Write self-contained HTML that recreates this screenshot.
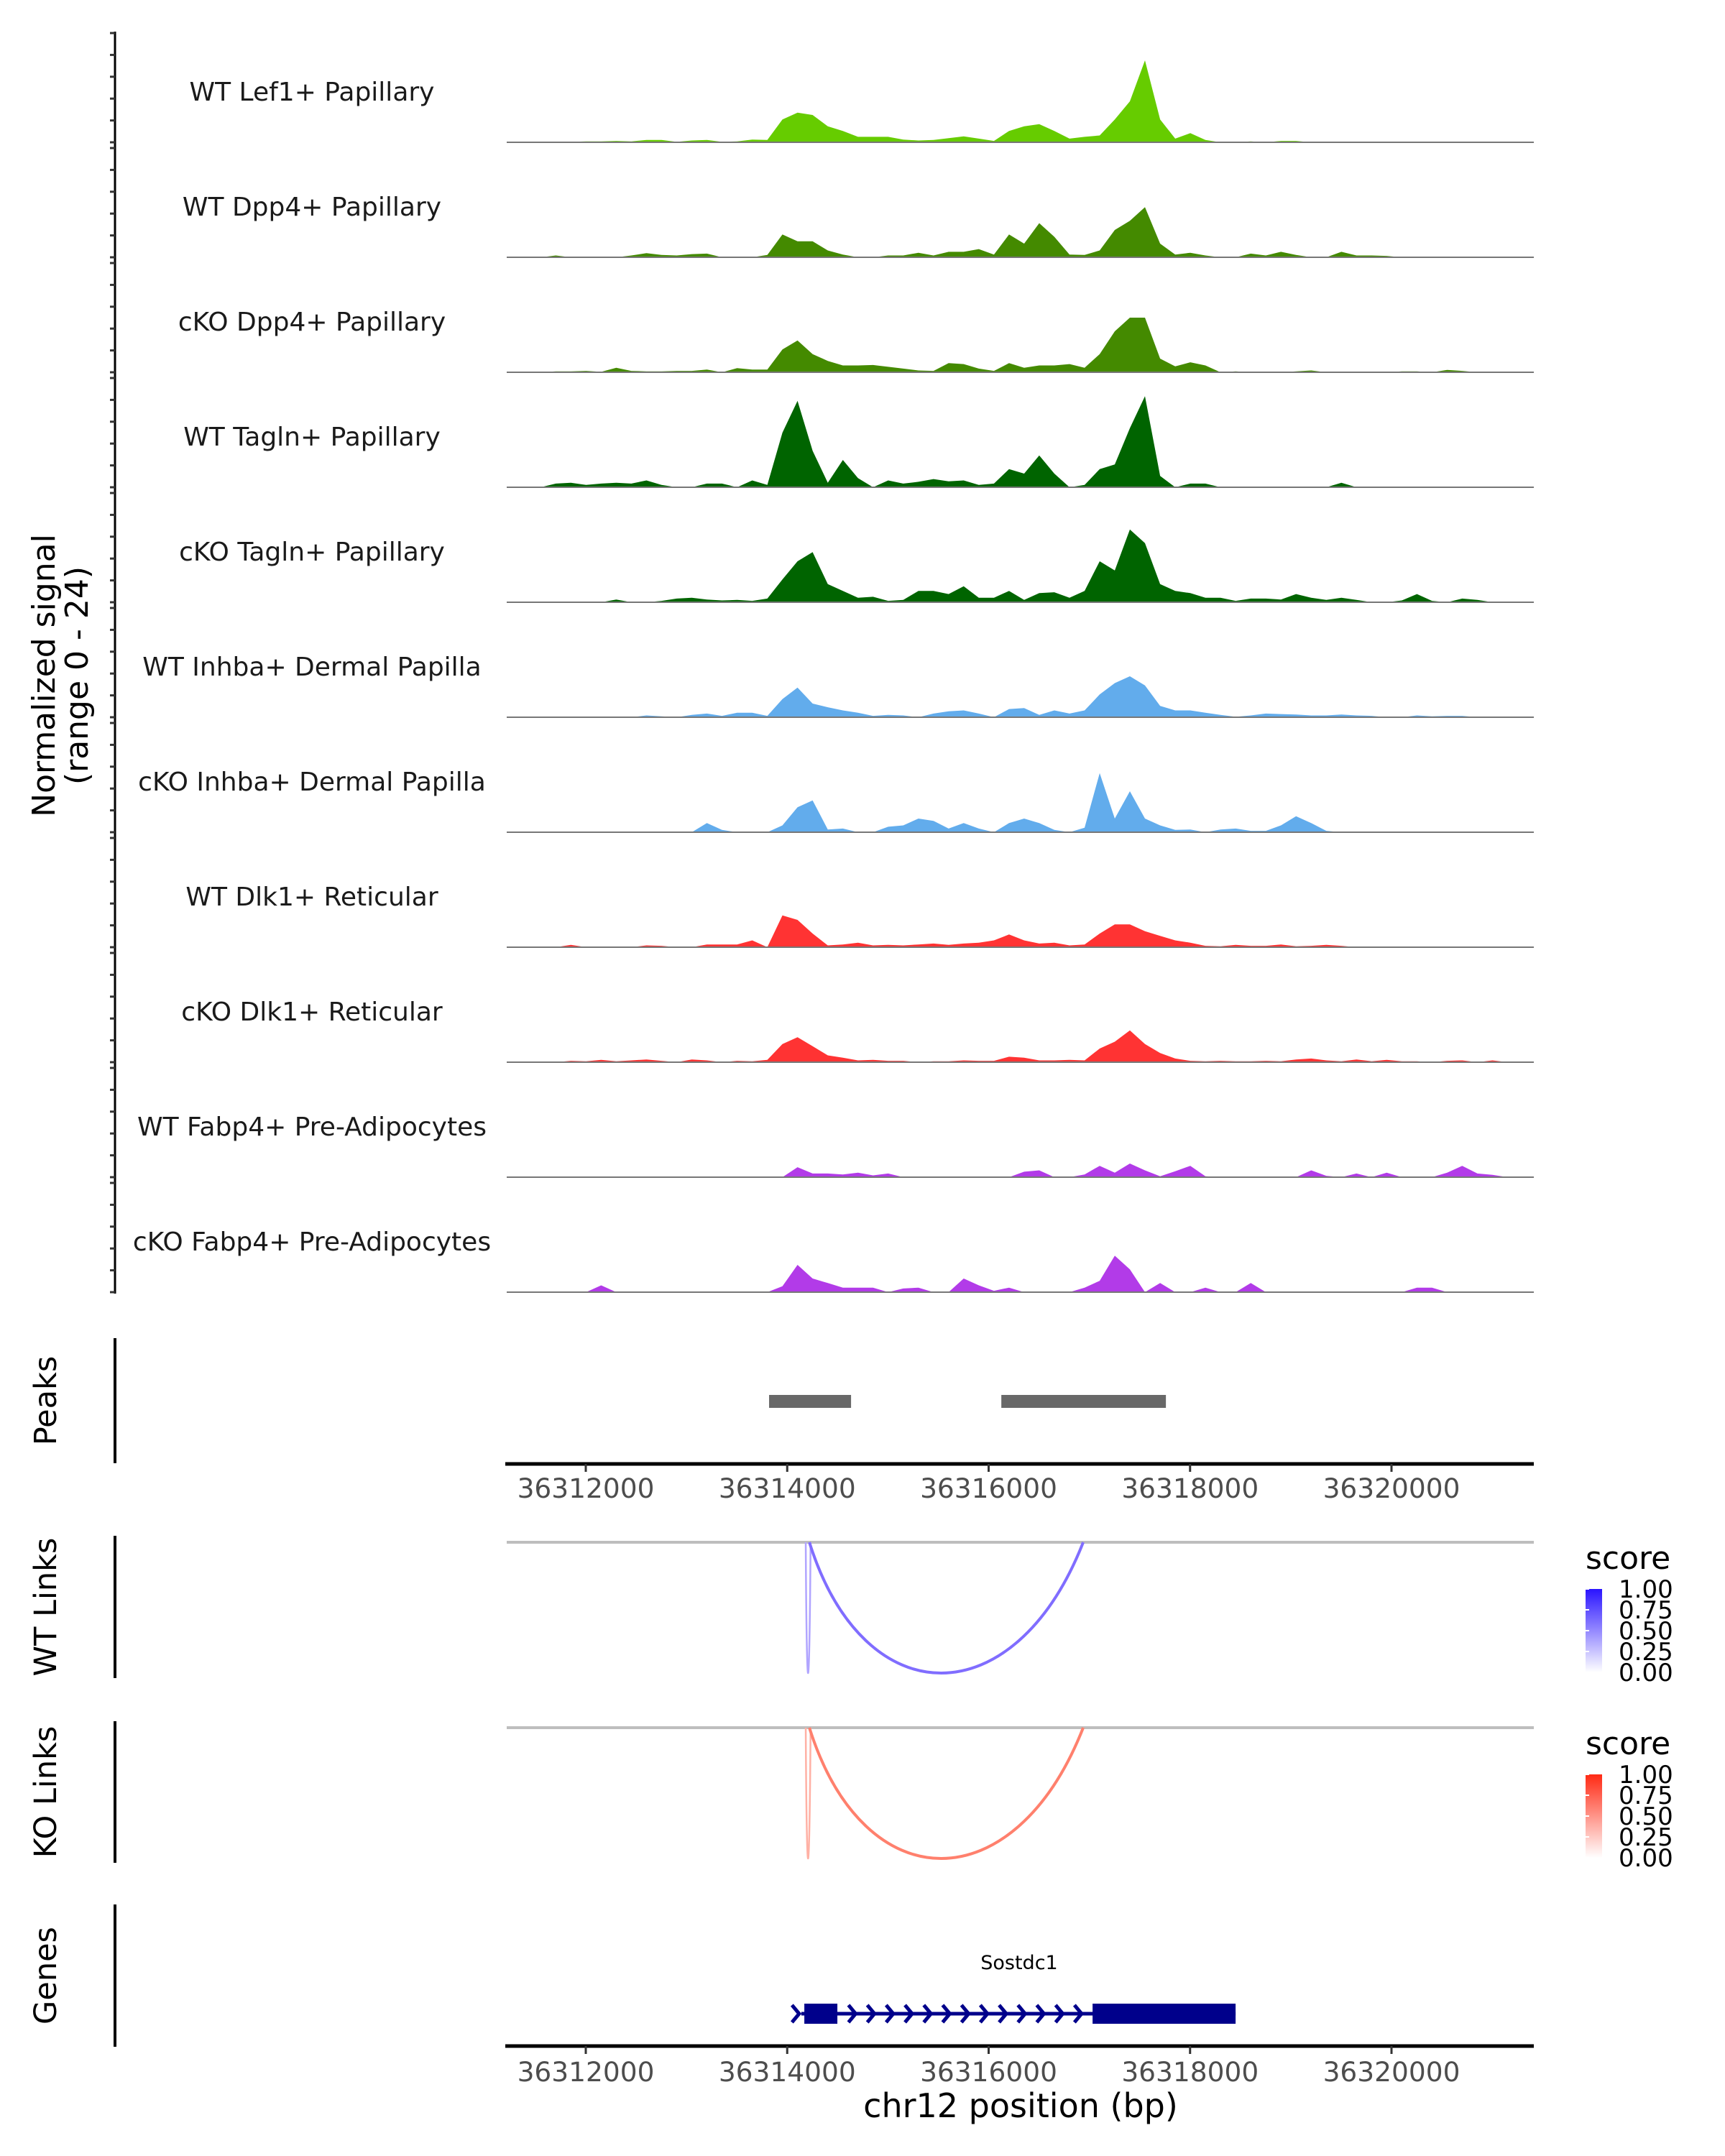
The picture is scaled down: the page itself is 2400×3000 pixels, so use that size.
<!DOCTYPE html>
<html><head><meta charset="utf-8">
<style>
html,body{margin:0;padding:0;background:#fff;}
svg{display:block;}
text{font-family:"DejaVu Sans","Liberation Sans",sans-serif;}
</style></head>
<body>
<svg id="chart" xmlns="http://www.w3.org/2000/svg" width="2400" height="3000" viewBox="0 0 2400 3000">
<rect width="2400" height="3000" fill="#fff"/>
<g id="tracks"></g>
<g id="panels"></g>
</svg>
<script>
// ---- data ----
const trackNames = ["WT Lef1+ Papillary","WT Dpp4+ Papillary","cKO Dpp4+ Papillary","WT Tagln+ Papillary","cKO Tagln+ Papillary","WT Inhba+ Dermal Papilla","cKO Inhba+ Dermal Papilla","WT Dlk1+ Reticular","cKO Dlk1+ Reticular","WT Fabp4+ Pre-Adipocytes","cKO Fabp4+ Pre-Adipocytes"];
const trackColors = ["#66cc00","#448a00","#448a00","#006400","#006400","#62acec","#62acec","#ff3333","#ff3333","#b23be8","#b23be8"];
const binStartBp = 36311200;
const binSizeBp = 150;
const sigLef1WT = [0,0,0,0,.1,.2,.2,.3,.2,.5, .5,.1,.4,.5,.1,.2,.6,.5,5,6.5, 6,3.5,2.5,1.2,1.2,1.2,.6,.4,.5,.9, 1.3,.8,.3,2.5,3.5,4,2.5,.8,1.2,1.5, 5,9,18,5,.8,2,.5,0,0,.2, 0,.3,.3,0,.1,.1,0,0,0,0, 0,0,0,0,0,0,0,0];
const sigDpp4WT = [0,0,0,.4,0,0,0,0,.4,.9, .5,.4,.7,.8,0,0,0,.5,5,3.5, 3.5,1.5,.6,0,0,.4,.4,1,.4,1.2, 1.2,1.8,.6,5,3,7.5,4.5,.6,.5,1.5, 6,8,11,3,.6,1,.4,0,0,.8, .4,1.2,.5,0,0,1.2,.4,.4,.3,0, 0,0,0,0,0,0,0,0];
const sigDpp4KO = [0,0,0,.2,.2,.3,.1,1,.3,.2, .2,.3,.3,.6,0,.9,.6,.6,5,7, 4,2.5,1.5,1.5,1.6,1.2,.8,.4,.3,2, 1.8,.8,.3,2,1,1.5,1.5,1.8,1,4, 9,12,12,3,1.3,2.2,1.5,0,.2,0, 0,0,.2,.4,0,0,0,0,0,.2, .2,0,.5,.3,0,0,0,0];
const sigTaglnWT = [0,0,0,.8,1,.5,.8,1,.8,1.5, .5,0,0,.8,.8,0,1.5,.5,12,19, 8,1,6,2,0,1.5,.8,1.2,1.8,1.3, 1.5,.5,.8,4,3,7,3,0,.5,4, 5,13,20,2.5,0,.8,.8,0,0,0, 0,0,0,0,0,1,0,0,0,0, 0,0,0,0,0,0,0,0];
const sigTaglnKO = [0,0,0,.1,0,0,0,.6,0,0, .3,.8,1,.6,.4,.5,.3,.8,5,9, 11,4,2.5,1,1.2,.3,.5,2.5,2.5,1.8, 3.5,1,1,2.5,.5,2,2.2,1,2.5,9, 7,16,13,4,2.5,2,1,1,.3,.8, .8,.6,1.8,1,.5,1,.5,0,0,.4, 1.8,.3,0,.8,.5,0,0,0];
const sigInhbaWT = [0,0,0,0,0,0,0,0,0,.4, .2,0,.5,.8,.3,1,1,.3,4,6.5, 3,2.2,1.5,1,.3,.5,.4,0,.8,1.3, 1.5,.8,0,1.8,2,.5,1.5,.8,1.5,5, 7.5,9,7,2.5,1.5,1.5,1,.5,.1,.4, .8,.7,.6,.4,.4,.6,.4,.3,0,0, .4,.2,.3,.3,0,0,0,0];
const sigInhbaKO = [0,0,0,0,0,0,0,0,0,0, 0,0,0,2,.5,0,0,0,1.5,5.5, 7,.6,.8,0,0,1.2,1.5,3,2.5,.8, 2,.8,0,2,3,2,.5,0,1,13, 3,9,3,1.5,.5,.6,0,.6,.8,.3, .3,1.5,3.5,2,.3,0,0,0,0,0, 0,0,0,0,0,0,0,0];
const sigDlk1WT = [0,0,0,0,.5,0,0,0,0,.4, .3,0,0,.6,.6,.6,1.5,0,7,6, 3,.4,.6,1,.4,.5,.4,.6,.8,.5, .8,1,1.5,2.8,1.5,.8,1,.4,.6,3, 5,5,3.5,2.5,1.5,1,.3,.2,.5,.3, .3,.6,.2,.3,.5,.3,0,0,0,0, 0,0,0,0,0,0,0,0];
const sigDlk1KO = [0,0,0,0,.3,.2,.5,.2,.4,.6, .3,0,.6,.4,0,.3,.2,.5,4,5.5, 3.5,1.5,1,.4,.5,.3,.3,0,.2,.2, .4,.3,.3,1.2,1,.4,.4,.5,.4,3, 4.5,7,4,2,.8,.3,.2,.3,.2,.2, .3,.2,.6,.8,.4,.2,.6,.2,.5,.2, .2,0,.3,.4,0,.4,0,0];
const sigFabp4WT = [0,0,0,0,0,0,0,0,0,0, 0,0,0,0,0,0,0,0,0,2.2, .8,.8,.6,1,.4,.8,0,0,0,0, 0,0,0,0,1.2,1.5,0,0,.6,2.5, 1,3,1.5,.2,1.3,2.5,.2,0,0,0, 0,0,0,1.5,.3,0,.8,0,1,0, 0,0,1,2.5,.8,.5,0,0];
const sigFabp4KO = [0,0,0,0,0,0,1.5,0,0,0, 0,0,0,0,0,0,0,0,1.3,6, 3,2,1,1,1,0,.8,1,0,0, 3,1.5,.3,1,0,0,0,0,1,2.5, 8,5,0,2,0,0,1,0,0,2, 0,0,0,0,0,0,0,0,0,0, 1,1,0,0,0,0,0,0];
const signals = [sigLef1WT,sigDpp4WT,sigDpp4KO,sigTaglnWT,sigTaglnKO,sigInhbaWT,sigInhbaKO,sigDlk1WT,sigDlk1KO,sigFabp4WT,sigFabp4KO];
const xTicks = [36312000,36314000,36316000,36318000,36320000];
const peakStarts = [36313820,36316126];
const peakEnds = [36314634,36317760];
const wtLinkStarts = [36314184,36314220];
const wtLinkEnds = [36314232,36316939];
const wtLinkScores = [0.4,0.65];
const koLinkStarts = [36314184,36314220];
const koLinkEnds = [36314232,36316939];
const koLinkScores = [0.4,0.65];
const legendTicks = ["1.00","0.75","0.50","0.25","0.00"];
const geneName = "Sostdc1";
const exonStarts = [36314170,36317032];
const exonEnds = [36314498,36318452];
const geneStart = 36314140;
const geneEnd = 36318452;

// ---- scales ----
const NS="http://www.w3.org/2000/svg";
const X0=815, PXBP=280.25/2000;
function xs(bp){return X0+(bp-36312000)*PXBP;}
const AXL=703, AXR=2134;
const YMAX=24, TRACKH=152, TRACKGAP=160, BASE0=198;
function ys(k,v){return BASE0+k*TRACKGAP - Math.min(v,YMAX)/YMAX*TRACKH;}
function mk(tag,attrs,parent){const e=document.createElementNS(NS,tag);for(const a in attrs)e.setAttribute(a,attrs[a]);parent.appendChild(e);return e;}
const gT=document.getElementById('tracks');
const gP=document.getElementById('panels');

let el=mk('line',{x1:160,y1:44,x2:160,y2:1800,stroke:'#000','stroke-width':3},gT);


for(let k=0;k<signals.length;k++){
  for(let j=0;j<=5;j++){
    const y=BASE0+k*TRACKGAP-j*TRACKH/5;
    const t=mk('line',{x1:153,y1:y,x2:160,y2:y,stroke:'#333','stroke-width':3},gT);
    
    
  }
}
const yt=mk('text',{transform:'translate(88,940) rotate(-90)','text-anchor':'middle','font-size':44,fill:'#000'},gT);


const t1=mk('tspan',{x:0,y:-12},yt);t1.textContent='Normalized signal';
const t2=mk('tspan',{x:0,y:34},yt);t2.textContent='(range 0 - 24)';

for(let k=0;k<signals.length;k++){
  const base=BASE0+k*TRACKGAP;
  const vals=signals[k];
  let d='M'+xs(binStartBp)+','+base;
  for(let i=0;i<vals.length;i++){
    const c=binStartBp+(i+0.35)*binSizeBp;
    d+=' L'+xs(c).toFixed(1)+','+ys(k,vals[i]).toFixed(1);
  }
  d+=' L'+xs(binStartBp+vals.length*binSizeBp)+','+base+' Z';
  const p=mk('path',{d:d,fill:trackColors[k]},gT);
  
  
  const bl=mk('line',{x1:AXL+2,y1:base,x2:AXR,y2:base,stroke:'#777','stroke-width':2},gT);
  
  
  const lb=mk('text',{x:434,y:base-58,'text-anchor':'middle','font-size':36,fill:'#1a1a1a'},gT);
  lb.textContent=trackNames[k];
  
  
}

const panelDefs=[["Peaks",1862,2036],["WT Links",2137,2335],["KO Links",2395,2592],["Genes",2650,2848]];
panelDefs.forEach(pd=>{
  const l=mk('line',{x1:160,y1:pd[1],x2:160,y2:pd[2],stroke:'#000','stroke-width':4},gP);
  
  
  const cy=(pd[1]+pd[2])/2;
  const t=mk('text',{transform:'translate(78,'+cy+') rotate(-90)','text-anchor':'middle','font-size':43,fill:'#000'},gP);
  t.textContent=pd[0];
  
  
});

for(let i=0;i<peakStarts.length;i++){
  const r=mk('rect',{x:xs(peakStarts[i]),y:1941,width:xs(peakEnds[i])-xs(peakStarts[i]),height:18,fill:'#686868'},gP);
  
  
}
function xAxis(y,labY,name){
  const a=mk('line',{x1:AXL,y1:y,x2:AXR,y2:y,stroke:'#000','stroke-width':5},gP);
  
  
  xTicks.forEach(tv=>{
    const tk=mk('line',{x1:xs(tv),y1:y,x2:xs(tv),y2:y+11,stroke:'#333','stroke-width':3},gP);
    
    
    const tl=mk('text',{x:xs(tv),y:labY,'text-anchor':'middle','font-size':37.5,fill:'#4d4d4d'},gP);
    tl.textContent=String(tv);
    
    
  });
}
xAxis(2037,2084,'peaks-x-axis');
xAxis(2847,2896,'genes-x-axis');
const xt=mk('text',{x:1420,y:2946,'text-anchor':'middle','font-size':46,fill:'#000'},gP);
xt.textContent='chr12 position (bp)';



function mix(c0,c1,t){return 'rgb('+c0.map((v,i)=>Math.round(v+(c1[i]-v)*t)).join(',')+')';}
function linkPanel(top,depth,starts,ends,scores,hi,name,legTop,legColorTop){
  const g=mk('line',{x1:AXL+2,y1:top,x2:AXR,y2:top,stroke:'#bebebe','stroke-width':4},gP);
  
  
  for(let i=0;i<starts.length;i++){
    const x1=xs(starts[i]),x2=xs(ends[i]),w=x2-x1;
    const c=top+depth/0.75;
    const d='M'+x1+','+top+' C'+(x1+0.2*w)+','+c+' '+(x2-0.25*w)+','+c+' '+x2+','+top;
    const p=mk('path',{d:d,fill:'none',stroke:mix([255,255,255],hi,scores[i]),'stroke-width':scores[i]>0.5?4:2.5},gP);
    
    
  }
  const st=mk('text',{x:2206,y:legTop-28,'font-size':44,fill:'#000'},gP);
  st.textContent='score';
  
  
  const gid='grad'+name;
  const defs=mk('defs',{},gP);
  const lg=mk('linearGradient',{id:gid,x1:0,y1:1,x2:0,y2:0},defs);
  mk('stop',{offset:0,'stop-color':'#ffffff'},lg);
  mk('stop',{offset:1,'stop-color':legColorTop},lg);
  const bar=mk('rect',{x:2206,y:legTop,width:23,height:116,fill:'url(#'+gid+')'},gP);
  
  
  legendTicks.forEach((lt,j)=>{
    const y=legTop+j*29;
    const tk=mk('line',{x1:2206,y1:y,x2:2211,y2:y,stroke:'#fff','stroke-width':2},gP);
    
    
    const tl=mk('text',{x:2252,y:y+12,'font-size':34,fill:'#000'},gP);
    tl.textContent=lt;
    
    
  });
}
linkPanel(2146,182,wtLinkStarts,wtLinkEnds,wtLinkScores,[60,30,255],'wt-links',2211,'#2a14ff');
linkPanel(2404,182,koLinkStarts,koLinkEnds,koLinkScores,[255,60,30],'ko-links',2469,'#ff2a14');

const gy=2802;
const gl=mk('line',{x1:xs(geneStart),y1:gy,x2:xs(geneEnd),y2:gy,stroke:'#00008b','stroke-width':5},gP);


for(let x=xs(geneStart)-8;x<xs(exonStarts[1])-6;x+=26.2){
  if(x>xs(exonStarts[0])+4 && x<xs(exonEnds[0])+18) continue;
  const c=mk('path',{d:'M'+(x-5)+','+(gy-12)+' L'+(x+5)+','+gy+' L'+(x-5)+','+(gy+12),fill:'none',stroke:'#00008b','stroke-width':5},gP);
  
  
}
for(let i=0;i<exonStarts.length;i++){
  const r=mk('rect',{x:xs(exonStarts[i]),y:gy-14,width:xs(exonEnds[i])-xs(exonStarts[i]),height:28,fill:'#00008b'},gP);
  
  
}
const gn=mk('text',{x:1418,y:2740,'text-anchor':'middle','font-size':27,fill:'#000'},gP);
gn.textContent=geneName;


</script>
</body></html>
